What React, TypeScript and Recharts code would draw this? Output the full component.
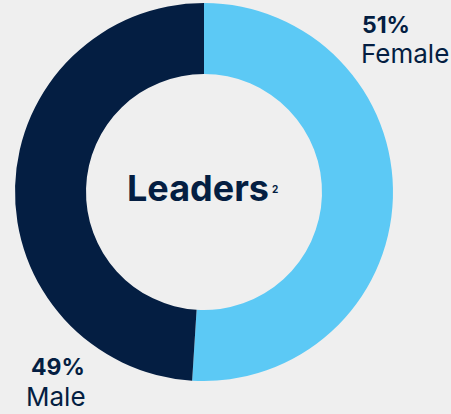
import React from "react";
import { PieChart, Pie, Cell, Label } from "recharts";

const categories = ["Female", "Male"];
const shares = [51, 49];
const colors = ["#5cc9f5", "#041e42"];
const centerTitle = "Leaders";
const centerSup = "2";

const data = categories.map((name, i) => ({ name, value: shares[i] }));

const NAVY = "#041e42";
const FONT = "Inter, 'DejaVu Sans', sans-serif";

// label anchor positions per slice (layout only)
const labelPos = [
  { x: 361, y1: 33, y2: 63 },
  { x: 26, y1: 375, y2: 406 },
];

const renderLabel = (props: any) => {
  const { index, name, value } = props;
  const p = labelPos[index];
  return (
    <g>
      <text x={p.x + (index === 1 ? 5 : 1)} y={p.y1} fill={NAVY} fontFamily={FONT} fontWeight={700} fontSize={23} textAnchor="start">
        {`${value}%`}
      </text>
      <text x={p.x} y={p.y2} fill={NAVY} fontFamily={FONT} fontWeight={400} fontSize={26} textAnchor="start">
        {name}
      </text>
    </g>
  );
};

const CenterLabel = (props: any) => {
  const vb = props.viewBox || {};
  const cx = vb.cx ?? 204;
  const cy = vb.cy ?? 192;
  return (
    <text x={cx - 77} y={cy + 9} fill={NAVY} fontFamily={FONT} textAnchor="start">
      <tspan fontSize={36} fontWeight={700}>{centerTitle}</tspan>
      <tspan fontSize={10} fontWeight={700} dx={3} dy={-8}>{centerSup}</tspan>
    </text>
  );
};

export default function App() {
  return (
    <div style={{ position: "fixed", left: 0, top: 0, width: 451, height: 414, background: "#efefef" }}>
      <PieChart width={451} height={414} margin={{ top: 0, right: 0, bottom: 0, left: 0 }}>
        <Pie
          data={data}
          dataKey="value"
          nameKey="name"
          cx={204}
          cy={192}
          innerRadius={118}
          outerRadius={189}
          startAngle={90}
          endAngle={-270}
          stroke="none"
          labelLine={false}
          label={renderLabel}
          isAnimationActive={false}
        >
          {data.map((d, i) => (
            <Cell key={d.name} fill={colors[i]} />
          ))}
          <Label content={<CenterLabel />} position="center" />
        </Pie>
      </PieChart>
    </div>
  );
}
